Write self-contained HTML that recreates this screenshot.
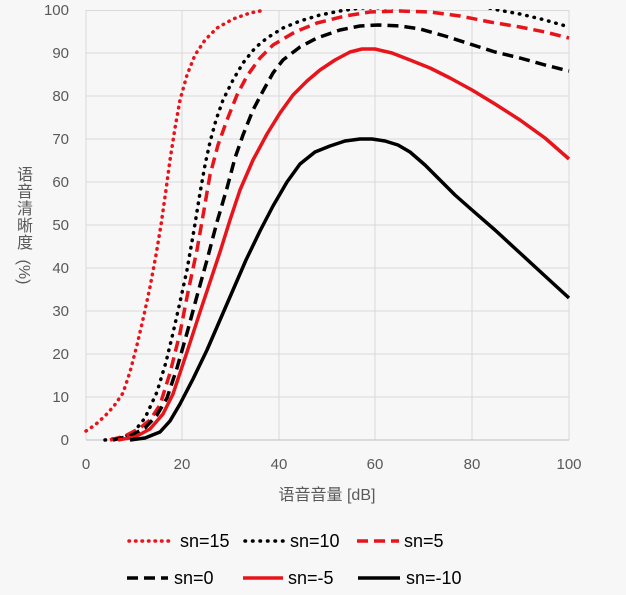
<!DOCTYPE html>
<html><head><meta charset="utf-8"><style>
body{margin:0;background:#f7f7f7;}
svg{display:block}
text{font-family:"Liberation Sans","Noto Sans CJK SC",sans-serif;fill:#595959}
</style></head><body>
<svg width="626" height="595" viewBox="0 0 626 595">
<defs><clipPath id="c"><rect x="84" y="9" width="487" height="433"/></clipPath></defs>
<rect width="626" height="595" fill="#f7f7f7"/>
<g stroke="#d9d9d9" stroke-width="1">
<line x1="86" y1="397" x2="569" y2="397"/><line x1="86" y1="354" x2="569" y2="354"/>
<line x1="86" y1="311" x2="569" y2="311"/><line x1="86" y1="268" x2="569" y2="268"/>
<line x1="86" y1="225" x2="569" y2="225"/><line x1="86" y1="182" x2="569" y2="182"/>
<line x1="86" y1="139" x2="569" y2="139"/><line x1="86" y1="96" x2="569" y2="96"/>
<line x1="86" y1="53" x2="569" y2="53"/><line x1="86" y1="10.5" x2="569" y2="10.5"/>
<line x1="182" y1="10" x2="182" y2="440"/><line x1="279" y1="10" x2="279" y2="440"/>
<line x1="375" y1="10" x2="375" y2="440"/><line x1="472" y1="10" x2="472" y2="440"/>
<line x1="569" y1="10" x2="569" y2="440"/><line x1="86" y1="10" x2="86" y2="440"/>
</g>
<line x1="86" y1="440" x2="569" y2="440" stroke="#bfbfbf"/>
<g font-size="15" text-anchor="end">
<text x="69" y="445">0</text><text x="69" y="402">10</text><text x="69" y="359">20</text>
<text x="69" y="316">30</text><text x="69" y="273">40</text><text x="69" y="230">50</text>
<text x="69" y="187">60</text><text x="69" y="144">70</text><text x="69" y="101">80</text>
<text x="69" y="58">90</text><text x="69" y="15">100</text>
</g>
<g font-size="15" text-anchor="middle">
<text x="86" y="469">0</text><text x="182" y="469">20</text><text x="279" y="469">40</text>
<text x="375" y="469">60</text><text x="472" y="469">80</text><text x="569" y="469">100</text>
</g>
<text x="327" y="500" font-size="16" text-anchor="middle">语音音量 [dB]</text>
<g font-size="16" text-anchor="middle">
<text x="25" y="180">语</text><text x="25" y="197">音</text><text x="25" y="214">清</text>
<text x="25" y="231">晰</text><text x="25" y="248">度</text>
<text x="25" y="278" transform="rotate(90 25 272)">(%)</text>
</g>
<g fill="none" stroke-width="3.5" stroke-linejoin="round" clip-path="url(#c)">
<polyline stroke="#e8141b" stroke-dasharray="0.5,6" stroke-linecap="round" points="86,431 95,425 105,416 114,406 123,393 130,372 137,345 144,315 150,287 156,255 161,225 166,190 170,160 175,128 180,100 187,75 195,55 205,40 217,28 233,19 250,13 265,10"/>
<polyline stroke="#000" stroke-dasharray="0.5,7" stroke-linecap="round" points="105,440 120,438 133,433 145,418 157,392 166,362 173,333 180,302 187,270 194,230 200,193 205,165 210,142 216,120 223,100 233,80 243,63 255,48 267,38 283,28 300,21 320,15 340,11 360,8 480,6 498,10 520,14 545,20 569,27"/>
<polyline stroke="#e8141b" stroke-dasharray="11,6" points="110,440 125,436 140,428 150,420 160,405 170,373 180,333 188,292 197,250 204,210 210,175 218,145 227,120 237,95 247,76 260,58 273,45 295,32 317,23 345,16 370,12 400,11 430,12 460,16 490,22 520,27 545,32 569,38"/>
<polyline stroke="#000" stroke-dasharray="11,6" points="113,440 130,436 145,428 157,415 167,398 177,368 187,333 197,296 207,260 217,222 227,188 235,158 243,135 253,110 263,91 273,73 283,60 300,47 317,38 340,30 360,26 378,25 400,26 420,29 445,36 470,44 495,52 520,58 545,65 569,71"/>
<polyline stroke="#e8141b" points="118,440 135,437 150,429 163,414 173,394 187,352 200,312 210,282 220,252 230,220 240,190 253,160 267,134 280,113 293,95 307,81 320,70 335,60 350,52 362,49 375,49 392,53 410,60 430,68 450,78 472,90 495,104 520,120 545,138 569,159"/>
<polyline stroke="#000" points="130,440 145,438 160,432 170,421 180,404 193,379 207,350 220,320 233,290 246,260 260,231 273,206 287,182 300,164 315,152 330,146 345,141 360,139 372,139 385,141 398,145 410,152 425,165 440,180 455,195 472,210 495,230 520,253 545,276 569,298"/>
</g>
<g stroke-width="3.5" fill="none">
<line x1="129" y1="541" x2="173" y2="541" stroke="#e8141b" stroke-dasharray="0.5,6" stroke-linecap="round"/>
<line x1="245" y1="541" x2="285" y2="541" stroke="#000" stroke-dasharray="0.5,7" stroke-linecap="round"/>
<line x1="357" y1="541" x2="399" y2="541" stroke="#e8141b" stroke-dasharray="11,6"/>
<line x1="127" y1="578" x2="168" y2="578" stroke="#000" stroke-dasharray="11,6"/>
<line x1="243" y1="578" x2="283" y2="578" stroke="#e8141b"/>
<line x1="358" y1="578" x2="400" y2="578" stroke="#000"/>
</g>
<g font-size="18">
<text x="180" y="547" style="fill:#000">sn=15</text><text x="290" y="547" style="fill:#000">sn=10</text>
<text x="404" y="547" style="fill:#000">sn=5</text><text x="174" y="584" style="fill:#000">sn=0</text>
<text x="288" y="584" style="fill:#000">sn=-5</text><text x="406" y="584" style="fill:#000">sn=-10</text>
</g>
</svg>
</body></html>
